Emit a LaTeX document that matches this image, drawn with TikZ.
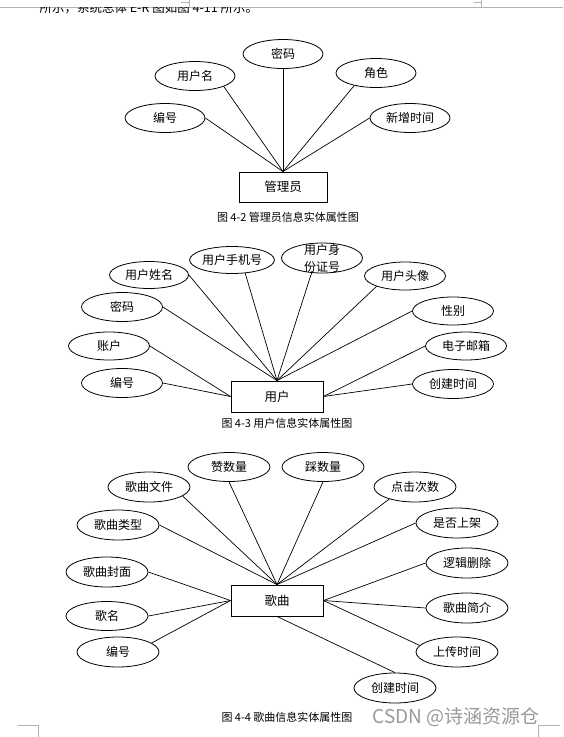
\documentclass[tikz,border=0pt]{standalone}
\usepackage{fontspec}
\setmainfont{Noto Sans CJK SC}
\usetikzlibrary{shapes.geometric}

\tikzset{
  attr/.style={draw,ellipse,line width=0.8pt,inner sep=0pt,minimum width=80pt,minimum height=29pt,font=\fontsize{12}{17}\selectfont},
  entity/.style={draw,rectangle,line width=0.9pt,inner sep=0pt,minimum width=92pt,minimum height=31pt,font=\fontsize{12.5}{15}\selectfont},
  link/.style={line width=0.7pt},
  caption/.style={font=\fontsize{11}{13}\selectfont},
  pagemark/.style={draw=black!30,line width=0.6pt}
}

\begin{document}
\begin{tikzpicture}[x=1pt,y=-1pt]
    \useasboundingbox[fill=white] (0,0) rectangle (563,737);

    % page edge and the cut line of text above
    \path[pagemark] (0,7) -- (563,7);
    \path[pagemark] (181,2) -- (189,2) -- (189,0) (189,0) -- (189,7);
    \path[pagemark] (474,2) -- (481,2) -- (481,0) (481,0) -- (481,7);
    \begin{scope}
      \clip (0,7.5) rectangle (563,20);
      \node[anchor=west,font=\fontsize{12.5}{15}\selectfont] (intro) at (36,8) {所示，系统总体 E-R 图如图 4-11 所示。};
    \end{scope}

    % manager
    \node[entity,minimum width=88pt,minimum height=30pt] (admin) at (283,187) {管理员};
    \node[attr] (a1) at (165,118) {编号};
    \node[attr] (a2) at (195,76) {用户名};
    \node[attr] (a3) at (283,54) {密码};
    \node[attr] (a4) at (376,73) {角色};
    \node[attr] (a5) at (410,118) {新增时间};
    \node[caption] (cap1) at (288,217) {图 4-2 管理员信息实体属性图};

    \path[link]
    (a1.east) edge (admin.north)
    (a2.-20) edge (admin.north)
    (a3.south) edge (admin.north)
    (a4.-150) edge (admin.north)
    (a5.west) edge (admin.north)
    ;

    % user
    \node[entity] (user) at (277,396.5) {用户};
    \node[attr,minimum width=81pt] (u1) at (122,383) {编号};
    \node[attr,minimum width=81pt,minimum height=28pt] (u2) at (109,346) {账户};
    \node[attr,minimum width=81pt] (u3) at (122,307) {密码};
    \node[attr,minimum width=79pt,minimum height=27pt] (u4) at (149,275) {用户姓名};
    \node[attr,minimum width=83pt,minimum height=27pt] (u5) at (232,260) {用户手机号};
    \node[attr,minimum width=81pt,minimum height=30pt,
          label={[align=center,font=\fontsize{12}{17}\selectfont]center:用户身\\份证号}] (u6) at (322,258) {};
    \node[attr,minimum width=81pt,minimum height=28pt] (u7) at (405,276) {用户头像};
    \node[attr,minimum width=81pt,minimum height=28pt] (u8) at (453,311) {性别};
    \node[attr,minimum width=81pt,minimum height=28pt] (u9) at (466,346) {电子邮箱};
    \node[attr,minimum width=81pt] (u10) at (453,384) {创建时间};
    \node[caption] (cap2) at (287,423) {图 4-3 用户信息实体属性图};

    \path[link]
    (u1.east) edge (user.west)
    (u2.east) edge (user.west)
    (u3.east) edge (user.north)
    (u4.east) edge (user.north)
    (u5.-45) edge (user.north)
    (u6.-125) edge (user.north)
    (u7.-160) edge (user.north)
    (u8.west) edge (user.north)
    (u9.west) edge (user.east)
    (u10.west) edge (user.east)
    ;

    % song
    \node[entity] (song) at (277,600.5) {歌曲};
    \node[attr,minimum width=82pt] (s1) at (229,467) {赞数量};
    \node[attr,minimum width=82pt] (s2) at (323,467) {踩数量};
    \node[attr,minimum width=82pt,minimum height=30pt] (s3) at (149,487) {歌曲文件};
    \node[attr,minimum width=82pt,minimum height=30pt] (s4) at (415,487) {点击次数};
    \node[attr,minimum width=82pt,minimum height=30pt] (s5) at (118,525) {歌曲类型};
    \node[attr,minimum width=82pt,minimum height=30pt] (s6) at (457,523) {是否上架};
    \node[attr,minimum width=82pt,minimum height=30pt] (s7) at (107,572) {歌曲封面};
    \node[attr,minimum width=82pt,minimum height=30pt] (s8) at (467,563) {逻辑删除};
    \node[attr,minimum width=82pt] (s9) at (107,616) {歌名};
    \node[attr,minimum width=82pt,minimum height=30pt] (s10) at (467,608) {歌曲简介};
    \node[attr,minimum width=82pt,minimum height=30pt] (s11) at (118,652) {编号};
    \node[attr,minimum width=82pt,minimum height=30pt] (s12) at (457,652) {上传时间};
    \node[attr,minimum width=82pt,minimum height=30pt] (s13) at (395,688) {创建时间};
    \node[caption] (cap3) at (287,717) {图 4-4 歌曲信息实体属性图};

    \path[link]
    (s3.-15) edge (song.north)
    (s1.south) edge (song.north)
    (s2.south) edge (song.north)
    (s4.-155) edge (song.north)
    (s5.east) edge (song.north)
    (s6.west) edge (song.north)
    (s7.east) edge (song.west)
    (s9.east) edge (song.west)
    (s11.15) edge (song.west)
    (s8.west) edge (song.east)
    (s10.west) edge (song.east)
    (s12.170) edge (song.east)
    (s13.north) edge (song.south)
    ;

    \node[text=black!40,font=\fontsize{19}{22}\selectfont] (mark) at (456,717) {CSDN @诗涵资源仓};

    % page corners
    \path[pagemark] (18,725) -- (38,725) -- (38,737);
    \path[pagemark] (560,725) -- (538,725) -- (538,737);
  \end{tikzpicture}
\end{document}
